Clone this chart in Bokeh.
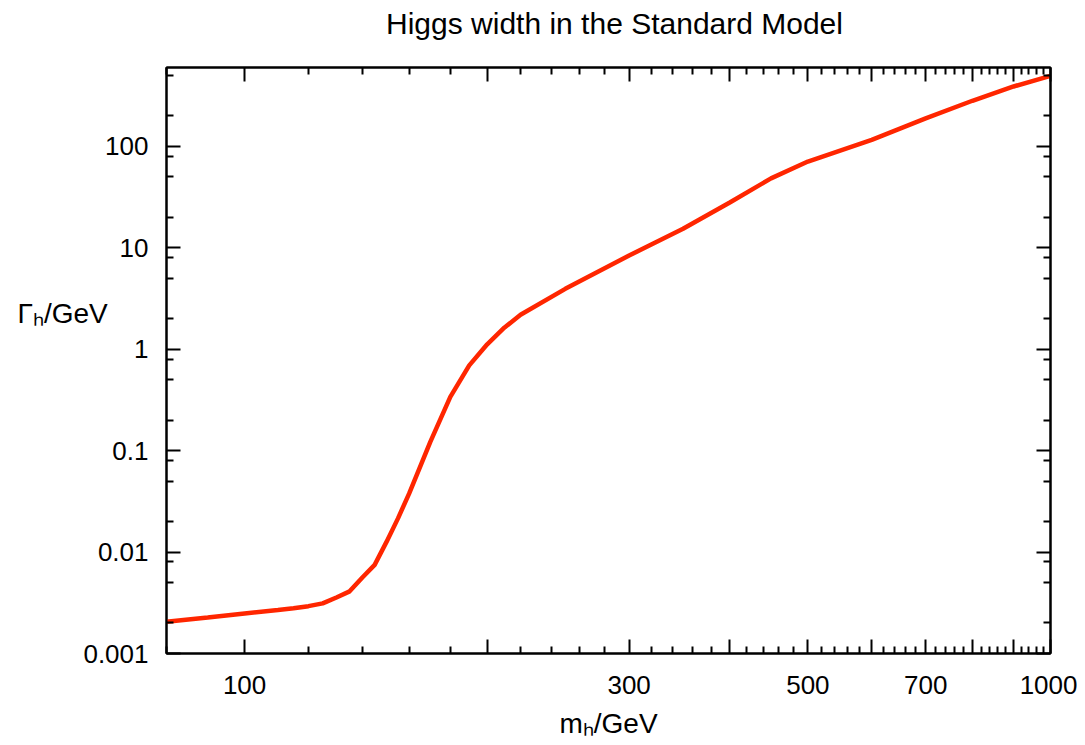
from bokeh.plotting import figure
from bokeh.models import (Range1d, FixedTicker, CustomJSTickFormatter, LogAxis, Label)
from bokeh.embed import file_html
from bokeh.resources import INLINE

# ---- data ----
mass = [80, 90, 100, 110, 115, 120, 125, 130, 135, 140, 145, 150, 155, 160,
        170, 180, 190, 200, 210, 220, 250, 300, 350, 400, 450, 500, 600, 700,
        800, 900, 1000]
width = [0.00206, 0.00227, 0.00248, 0.00268, 0.00279, 0.00293, 0.00312, 0.00357,
         0.0041, 0.00562, 0.00748, 0.0126, 0.0215, 0.0377, 0.122, 0.339, 0.693,
         1.12, 1.63, 2.19, 3.94, 8.4, 15.4, 28.0, 48.4, 70.9, 116.0, 189.0,
         282.0, 390.0, 497.0]

x_major = [100, 200, 300, 400, 500, 600, 700, 800, 900, 1000]
x_labeled = [100, 300, 500, 700, 1000]
x_minor = [80, 120, 140, 160, 180, 220, 240, 260, 280, 320, 340, 360, 380,
           420, 440, 460, 480, 520, 540, 560, 580, 620, 640, 660, 680,
           720, 740, 760, 780, 820, 840, 860, 880, 920, 940, 960, 980]
y_major = [0.001, 0.01, 0.1, 1, 10, 100]
y_labels = ["0.001", "0.01", "0.1", "1", "10", "100"]
y_minor = [0.002, 0.005, 0.008, 0.02, 0.05, 0.08, 0.2, 0.5, 0.8,
           2, 5, 8, 20, 50, 80, 200, 500]

title_text = "Higgs width in the Standard Model"
x_title = "m\u2095/GeV"
y_title = "\u0393\u2095/GeV"

FONT = "Liberation Sans"

p = figure(width=1087, height=741, x_axis_type="log", y_axis_type="log",
           x_range=Range1d(80, 1000), y_range=Range1d(0.001, 600),
           output_backend="svg", toolbar_location=None,
           min_border_left=166, min_border_right=27,
           min_border_top=67, min_border_bottom=87,
           margin=(0, 0, 0, -10))
p.background_fill_color = "white"
p.border_fill_color = "white"
p.outline_line_color = "black"
p.outline_line_width = 2
p.xgrid.visible = False
p.ygrid.visible = False
p.title.visible = False

p.line(mass, width, line_color="#FF2600", line_width=4.5)

xt = FixedTicker(ticks=x_major, minor_ticks=x_minor)
yt = FixedTicker(ticks=y_major, minor_ticks=y_minor)
xfmt = CustomJSTickFormatter(args=dict(lab=x_labeled),
                             code="return lab.includes(tick) ? String(tick) : '';")
yfmt = CustomJSTickFormatter(args=dict(vals=y_major, labs=y_labels),
                             code="""
for (let i = 0; i < vals.length; i++) {
  if (Math.abs(Math.log10(tick) - Math.log10(vals[i])) < 1e-6) return labs[i];
}
return '';""")

def style(ax, show):
    ax.axis_line_color = "black"
    ax.axis_line_width = 2
    ax.major_tick_line_color = "black"
    ax.major_tick_line_width = 2
    ax.minor_tick_line_color = "black"
    ax.minor_tick_line_width = 2
    ax.major_tick_in = 14
    ax.major_tick_out = 0
    ax.minor_tick_in = 7
    ax.minor_tick_out = 0
    ax.major_label_text_font = FONT
    ax.major_label_text_font_size = "26px"
    ax.major_label_text_color = "black" if show else None

xa = p.xaxis[0]
xa.ticker = xt
xa.formatter = xfmt
xa.major_label_standoff = 22
xa.axis_label = x_title
xa.axis_label_text_font = FONT
xa.axis_label_text_font_size = "28px"
xa.axis_label_text_font_style = "normal"
xa.axis_label_text_color = "black"
xa.axis_label_standoff = 11
style(xa, True)

ya = p.yaxis[0]
ya.ticker = yt
ya.formatter = yfmt
ya.major_label_standoff = 18
style(ya, True)

top = LogAxis(ticker=FixedTicker(ticks=x_major, minor_ticks=x_minor))
style(top, False)
p.add_layout(top, "above")
right = LogAxis(ticker=FixedTicker(ticks=y_major, minor_ticks=y_minor))
style(right, False)
p.add_layout(right, "right")

# texts placed in the side panels (outside the frame)
p.add_layout(Label(x=448, y=44, x_units="screen", y_units="screen", text=title_text,
                   text_font=FONT, text_font_size="30px", text_color="black",
                   text_align="center", text_baseline="middle"), "above")
p.add_layout(Label(x=27, y=340, x_units="screen", y_units="screen", text=y_title,
                   text_font=FONT, text_font_size="28px", text_color="black",
                   text_align="left", text_baseline="middle"), "left")

open("out.html", "w").write(file_html(p, INLINE))
